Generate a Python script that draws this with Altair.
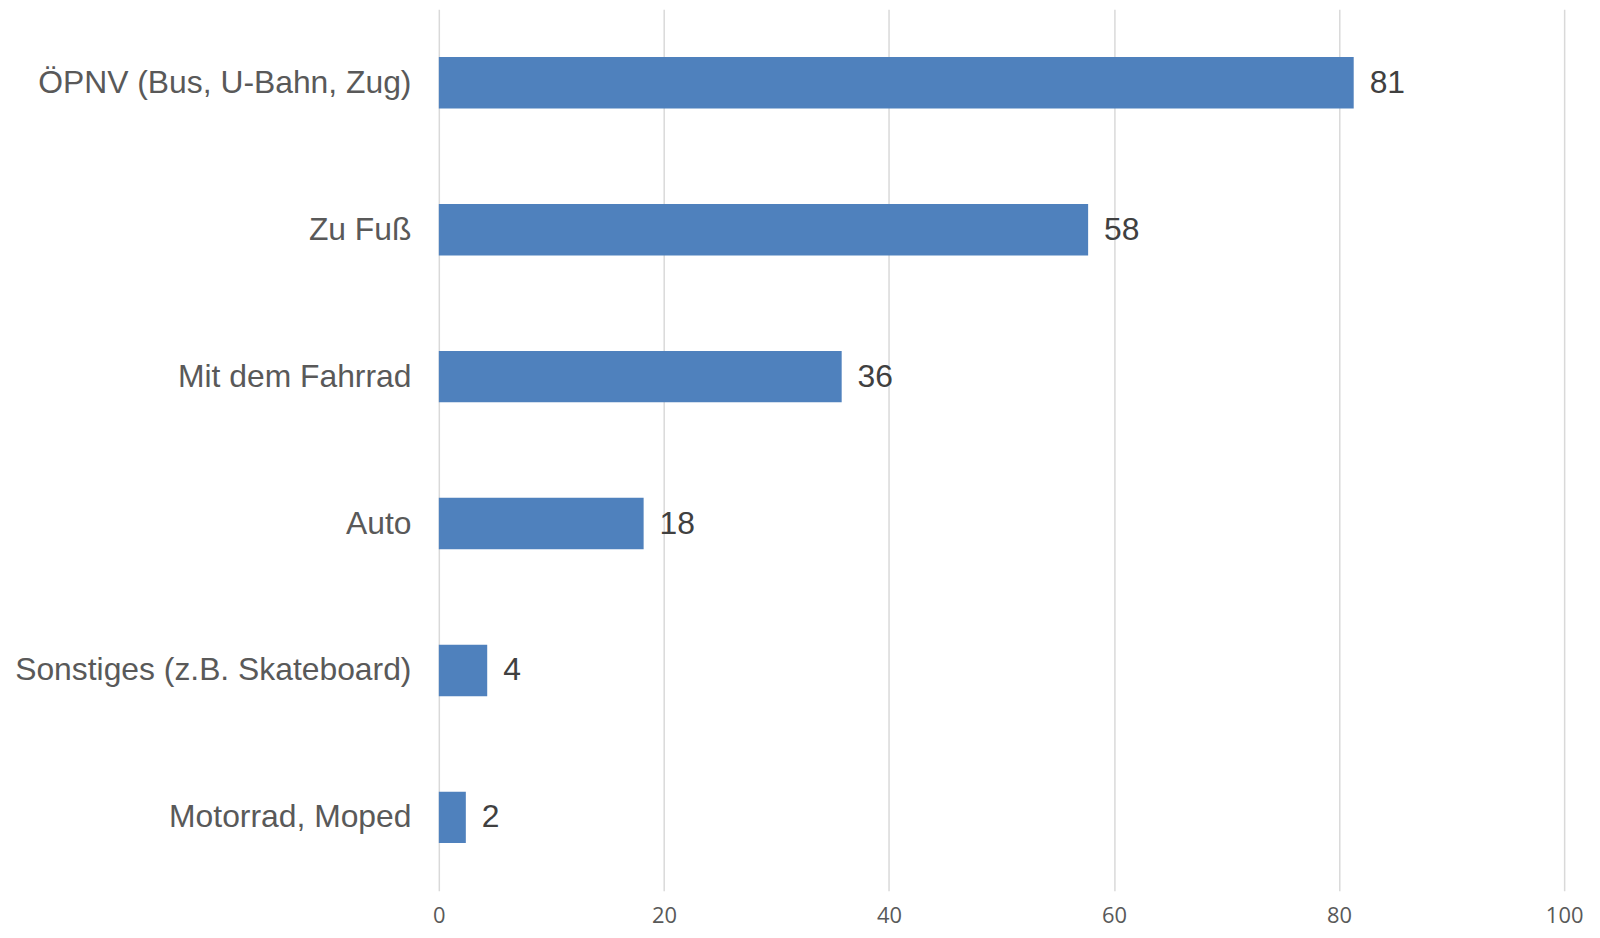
import altair as alt
import pandas as pd

categories = [
    "ÖPNV (Bus, U-Bahn, Zug)",
    "Zu Fuß",
    "Mit dem Fahrrad",
    "Auto",
    "Sonstiges (z.B. Skateboard)",
    "Motorrad, Moped",
]
values = [81.3, 57.7, 35.8, 18.2, 4.3, 2.4]
x_ticks = [0, 20, 40, 60, 80, 100]

df = pd.DataFrame({"Kategorie": categories, "Wert": values})

y_enc = alt.Y(
    "Kategorie:N",
    sort=categories,
    title=None,
    scale=alt.Scale(paddingInner=0.65, paddingOuter=0.325),
    axis=alt.Axis(
        domain=False,
        ticks=False,
        labelFont="Liberation Sans",
        labelFontSize=32,
        labelColor="#595959",
        labelPadding=28,
        labelLimit=600,
        grid=False,
    ),
)

x_enc = alt.X(
    "Wert:Q",
    title=None,
    scale=alt.Scale(domain=[0, 100], nice=False),
    axis=alt.Axis(
        values=x_ticks,
        domain=False,
        ticks=False,
        grid=True,
        gridColor="#d9d9d9",
        gridWidth=1.5,
        labelFont="Open Sans",
        labelFontSize=22,
        labelColor="#595959",
        labelPadding=15,
        labelFlush=False,
        format="d",
    ),
)

bars = alt.Chart(df).mark_bar(color="#4f81bd").encode(x=x_enc, y=y_enc)

labels = alt.Chart(df).mark_text(
    align="left",
    baseline="middle",
    dx=16,
    font="Liberation Sans",
    fontSize=32,
    color="#404040",
).encode(
    x=x_enc,
    y=y_enc,
    text=alt.Text("Wert:Q", format=".0f"),
)

chart = (
    alt.layer(bars, labels)
    .properties(
        width=1131,
        height=886,
        autosize=alt.AutoSizeParams(type="none"),
        padding={"left": 433, "top": -1, "right": 28, "bottom": 37},
        view=alt.ViewBackground(stroke="transparent", strokeWidth=0),
    )
    .configure_view(strokeWidth=0, stroke="transparent")
    .configure(background="white")
)

chart.save("out.html", embed_options={"renderer": "svg", "actions": False})
